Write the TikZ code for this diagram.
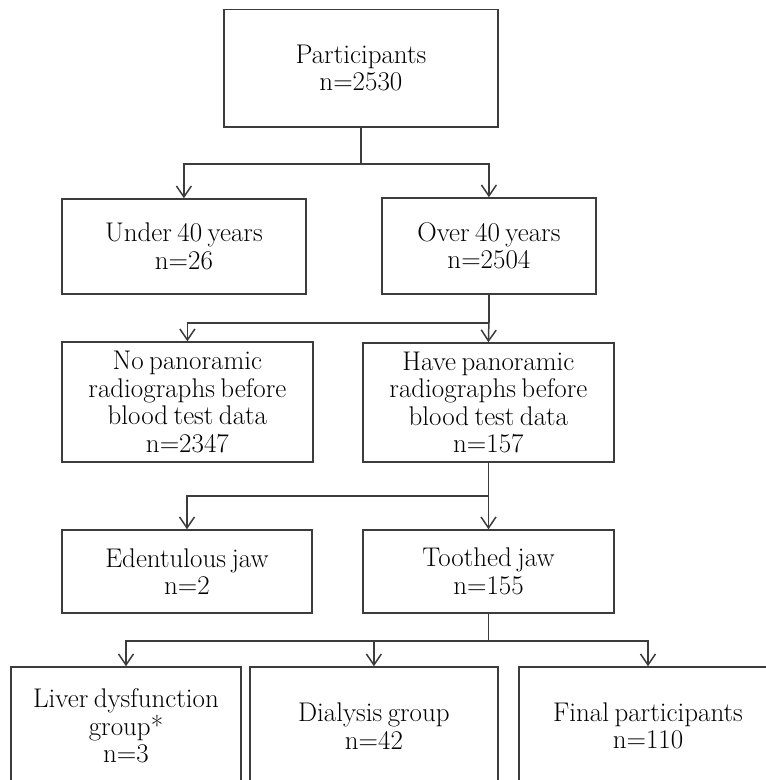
\documentclass[tikz,border=0pt]{standalone}
\usetikzlibrary{arrows.meta}
\definecolor{linec}{HTML}{3C3C3C}
\newcommand{\boxfont}{\fontsize{27}{27.4}\selectfont\spaceskip=5.5pt plus 1pt minus 1pt\relax}
\begin{document}
\begin{tikzpicture}[x=1pt,y=-1pt,
  box/.style={draw=linec, line width=1.5pt, inner sep=0pt, align=center,
    font=\boxfont, text=black},
  conn/.style={draw=linec, line width=1.5pt},
  arr/.style={conn, -{Straight Barb[length=11pt,width=15pt,line width=1.5pt]}}]
\useasboundingbox (0,0) rectangle (766,780);
\clip (0,0) rectangle (766,780);
\fill[white] (0,0) rectangle (766,780);
\node[box, minimum width=273.7pt, minimum height=117.5pt] (p) at (360.9,68.25) {Participants\\n=2530};
\node[box, minimum width=243.7pt, minimum height=95pt] (u40) at (183.9,246.5) {Under 40 years\\n=26};
\node[box, minimum width=213.7pt, minimum height=96pt] (o40) at (488.9,246) {Over 40 years\\n=2504};
\node[box, minimum width=250.7pt, minimum height=119.7pt] (nop) at (187.4,401.9) {No panoramic\\radiographs before\\blood test data\\n=2347};
\node[box, minimum width=250.7pt, minimum height=119pt] (have) at (488.4,402.5) {Have panoramic\\radiographs before\\blood test data\\n=157};
\node[box, minimum width=250pt, minimum height=83pt] (ed) at (187,571.5) {Edentulous jaw\\n=2};
\node[box, minimum width=251pt, minimum height=83pt] (th) at (488.5,571.5) {Toothed jaw\\n=155};
\node[box, minimum width=230pt, minimum height=118pt] (liv) at (126,726) {Liver dysfunction\\group*\\n=3};
\node[box, minimum width=247.7pt, minimum height=118pt] (dia) at (373.9,726) {Dialysis group\\n=42};
\node[box, minimum width=258pt, minimum height=118pt] (fin) at (648,726) {Final participants\\n=110};
% connectors
\draw[conn] (p.south) -- ++(0,36) coordinate (j1);
\draw[arr] (j1) -| (u40.north);
\draw[arr] (j1) -| (o40.north);
\draw[conn] (o40.south) -- ++(0,28) coordinate (j2);
\draw[arr] (j2) -| (nop.north);
\draw[arr] (j2) -- (have.north);
\draw[conn] (have.south) -- ++(0,33) coordinate (j3);
\draw[arr] (j3) -| (ed.north);
\draw[arr] (j3) -| (th.north);
\draw[conn] (th.south) -- ++(0,27) coordinate (j4);
\draw[arr] (j4) -| (liv.north);
\draw[arr] (j4) -| (dia.north);
\draw[arr] (j4) -| (fin.north);
\end{tikzpicture}
\end{document}
